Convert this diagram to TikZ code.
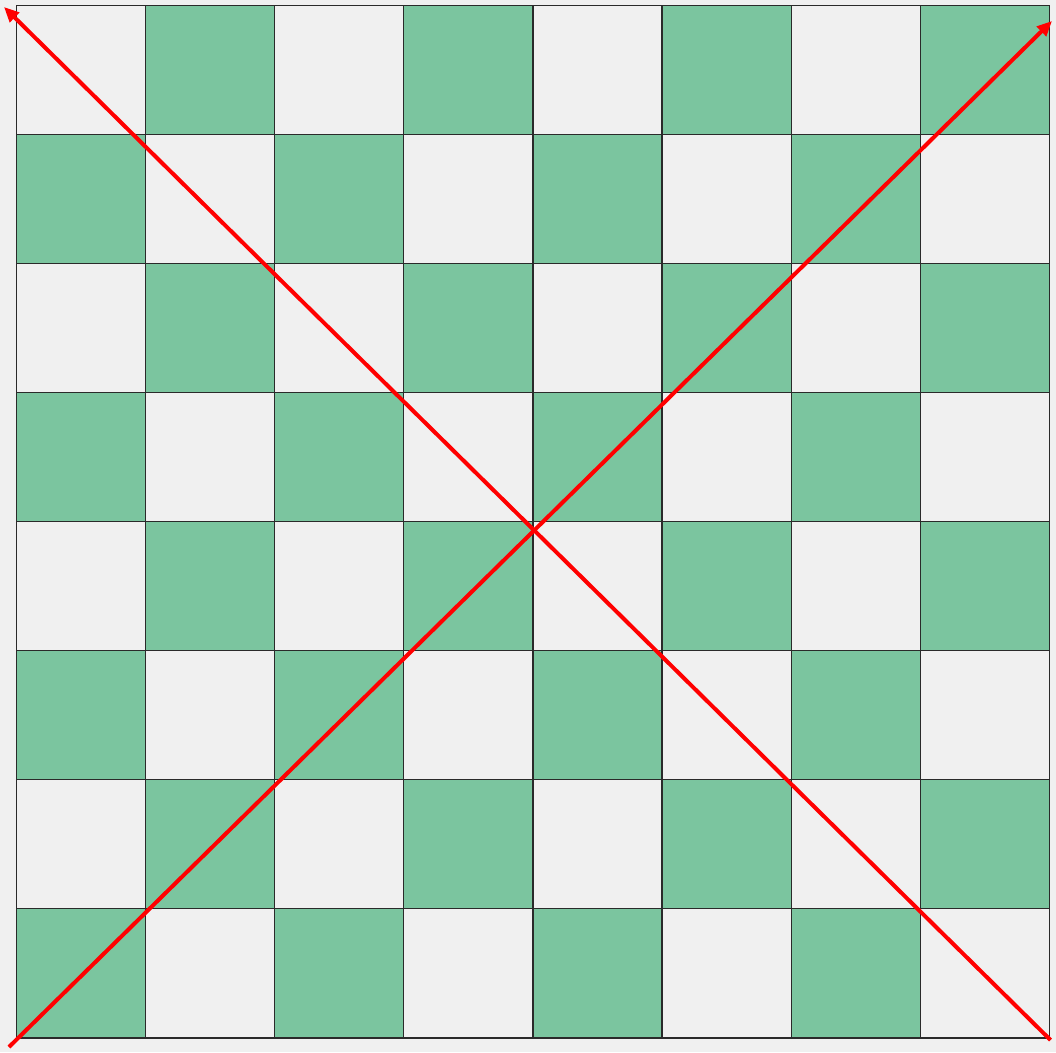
\documentclass[tikz,border=0pt]{standalone}
\usetikzlibrary{arrows.meta}
\definecolor{bgc}{HTML}{F0F0F0}
\definecolor{sq}{HTML}{7BC59F}
\definecolor{gridc}{HTML}{2A2A2A}
\begin{document}
\begin{tikzpicture}[x=1pt,y=-1pt,
  cell/.style={draw=gridc,line width=1.2pt},
  diag/.style={draw=red,line width=4pt,-{Triangle[length=15pt,width=13pt]}}]
\fill[bgc] (0,0) rectangle (1056,1052);
\useasboundingbox (0,0) rectangle (1056,1052);
\foreach \r in {0,...,7}{
  \foreach \c in {0,...,7}{
    \pgfmathtruncatemacro{\odd}{mod(\r+\c,2)}
    \ifnum\odd=1
      \path[cell,fill=sq] ({16.5+\c*129.1},{5.5+\r*129.05}) rectangle ++(129.1,129.05);
    \else
      \path[cell,fill=bgc] ({16.5+\c*129.1},{5.5+\r*129.05}) rectangle ++(129.1,129.05);
    \fi
  }
}
\coordinate (bl) at (9,1047);
\coordinate (tr) at (1052,21);
\coordinate (br) at (1050.5,1040);
\coordinate (tl) at (4,7);
\draw[diag] (bl) -- (tr);
\draw[diag] (br) -- (tl);
\end{tikzpicture}
\end{document}
